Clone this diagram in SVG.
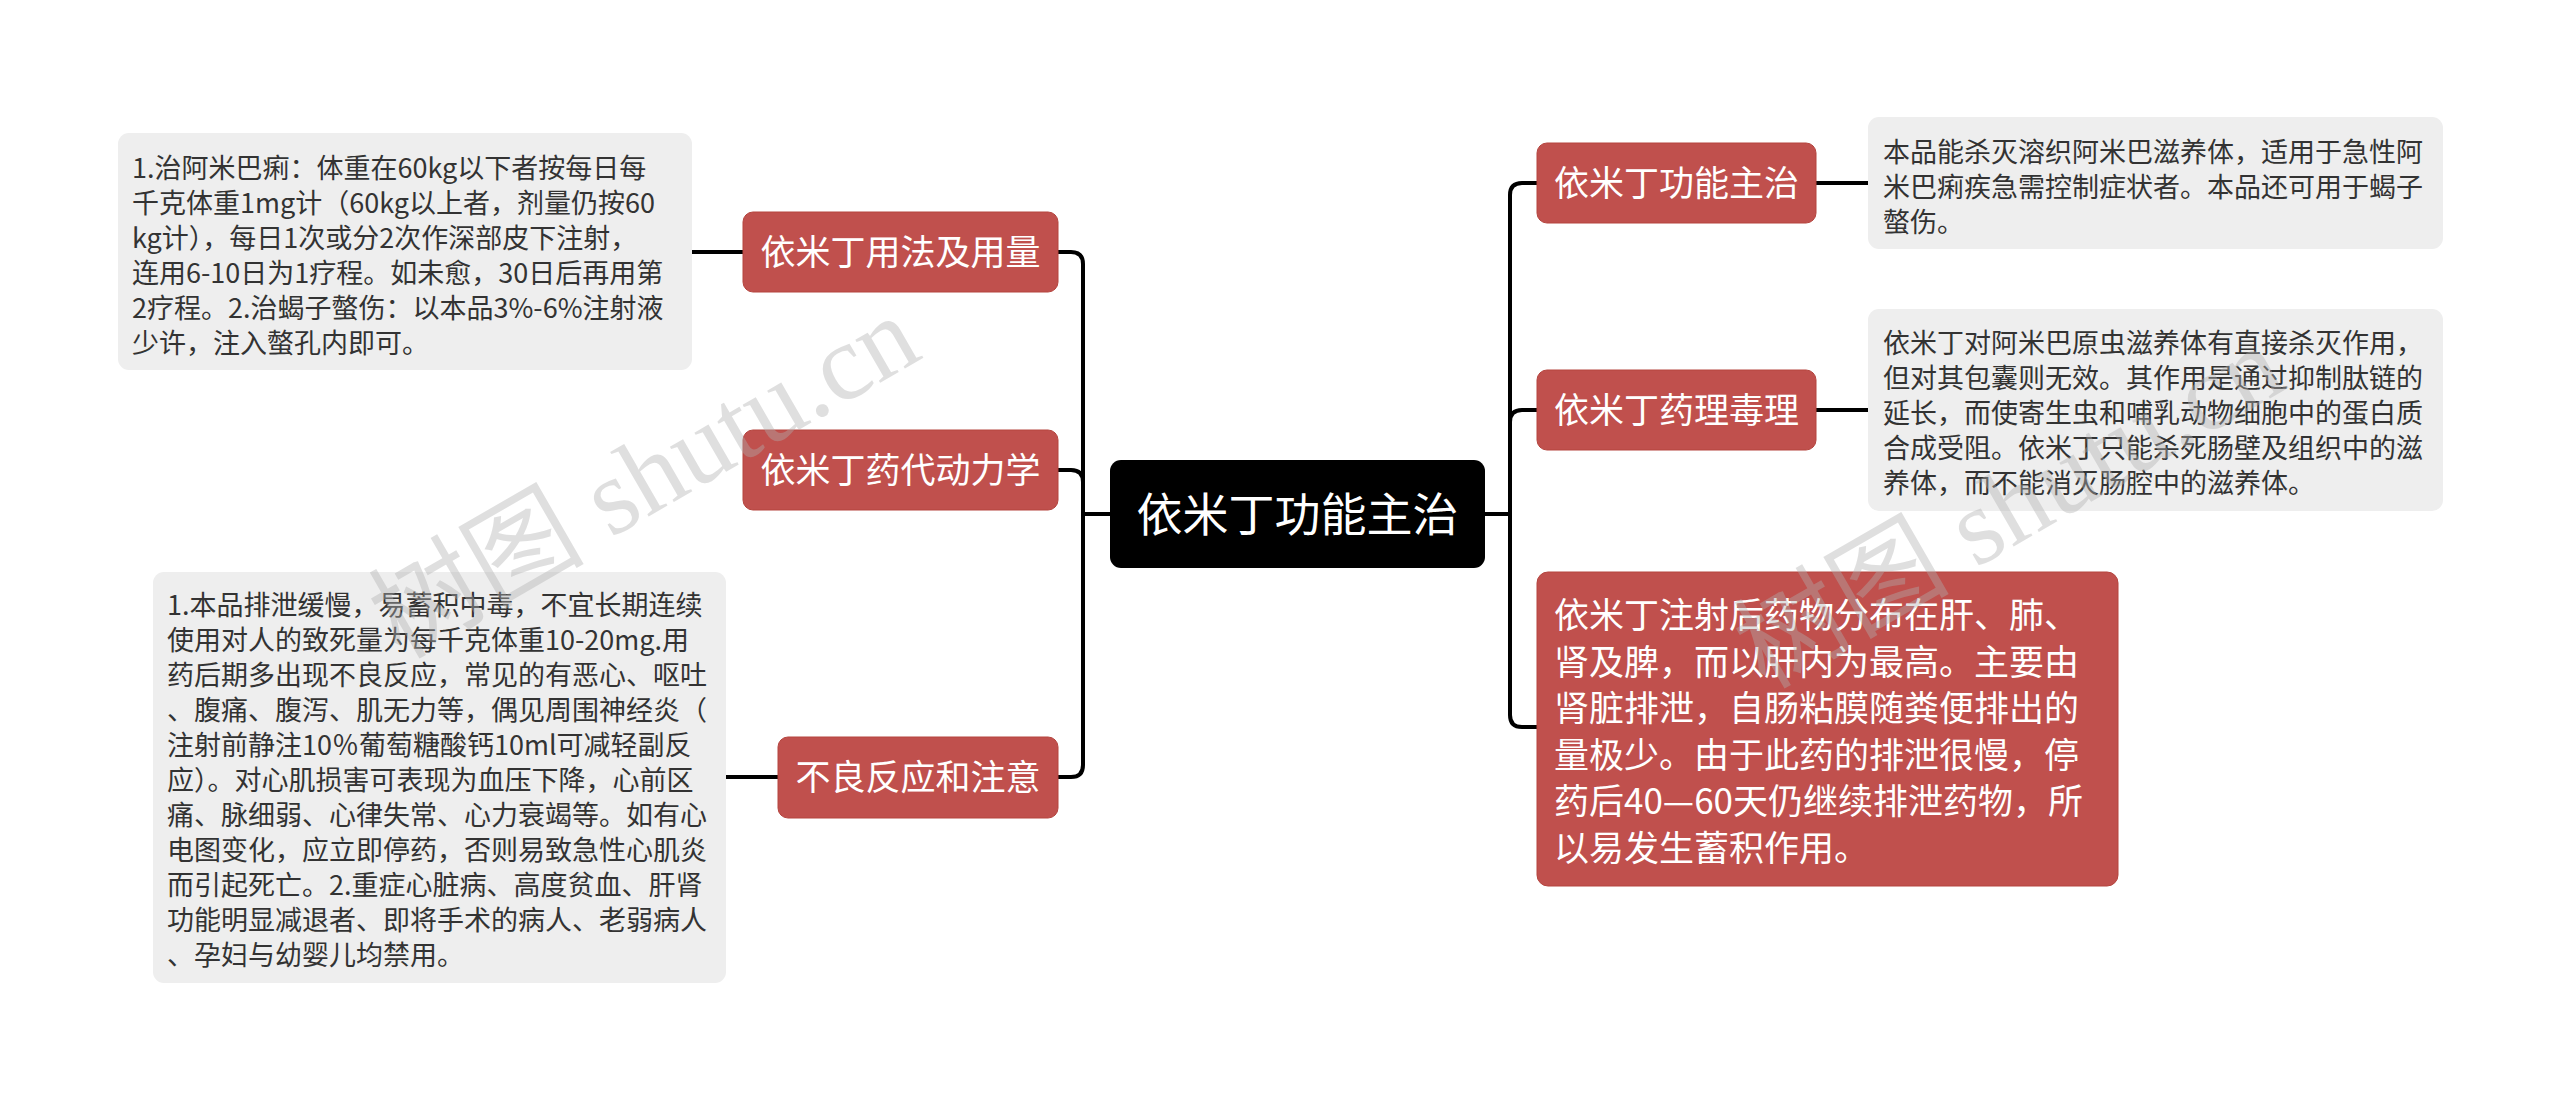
<svg xmlns="http://www.w3.org/2000/svg" width="2560" height="1102" viewBox="0 0 2560 1102">
<style>
  text { font-family: "Noto Sans CJK SC", "Noto Sans", sans-serif; }
  .red { fill: #C0504D; stroke: #B5453F; stroke-width: 1; }
  .grey { fill: #EEEEEE; }
  .root { fill: #000000; }
  .lbl { fill: #FFFFFF; font-size: 35px; text-anchor: middle; }
  .rootlbl { fill: #FFFFFF; font-size: 46px; text-anchor: middle; }
  .note { fill: #333333; font-size: 27px; }
  .bignote { fill: #FFFFFF; font-size: 35px; }
  .conn { fill: none; stroke: #000000; stroke-width: 4; stroke-linecap: butt; }
  .wm { font-family: "Liberation Serif", "Noto Sans CJK SC", serif; font-size: 108px; fill: #b0b0b0; opacity: 0.4; }
</style>
<rect x="0" y="0" width="2560" height="1102" fill="#FFFFFF"/>

<g id="connectors">
  <path class="conn" d="M1110,514 H1083"/>
  <path class="conn" d="M1058,252 H1071 Q1083,252 1083,264 V765 Q1083,777 1071,777 H1058"/>
  <path class="conn" d="M1058,470 H1071 Q1083,470 1083,482"/>
  <path class="conn" d="M1485,514 H1510"/>
  <path class="conn" d="M1537,183 H1522 Q1510,183 1510,195 V715 Q1510,727 1522,727 H1537"/>
  <path class="conn" d="M1537,410 H1522 Q1510,410 1510,422"/>
  <path class="conn" d="M743,252 H692"/>
  <path class="conn" d="M778,777 H726"/>
  <path class="conn" d="M1816,183 H1868"/>
  <path class="conn" d="M1816,410 H1868"/>
</g>

<g id="root">
  <rect class="root" x="1110" y="460" width="375" height="108" rx="11"/>
  <text class="rootlbl" x="1297.5" y="531">依米丁功能主治</text>
</g>

<g id="usage">
  <rect class="red" x="743" y="212" width="315" height="80" rx="10"/>
  <text class="lbl" x="900.5" y="265">依米丁用法及用量</text>
</g>
<g id="usage-note">
  <rect class="grey" x="118" y="133" width="574" height="237" rx="11"/>
  <text class="note" x="132" y="178">1.治阿米巴痢：体重在60kg以下者按每日每</text>
  <text class="note" x="132" y="213">千克体重1mg计（60kg以上者，剂量仍按60</text>
  <text class="note" x="132" y="248">kg计），每日1次或分2次作深部皮下注射，</text>
  <text class="note" x="132" y="283">连用6-10日为1疗程。如未愈，30日后再用第</text>
  <text class="note" x="132" y="318">2疗程。2.治蝎子螫伤：以本品3%-6%注射液</text>
  <text class="note" x="132" y="353">少许，注入螫孔内即可。</text>
</g>

<g id="pk">
  <rect class="red" x="743" y="430" width="315" height="80" rx="10"/>
  <text class="lbl" x="900.5" y="483">依米丁药代动力学</text>
</g>

<g id="adverse">
  <rect class="red" x="778" y="737" width="280" height="81" rx="10"/>
  <text class="lbl" x="918" y="790">不良反应和注意</text>
</g>
<g id="adverse-note">
  <rect class="grey" x="153" y="572" width="573" height="411" rx="11"/>
  <text class="note" x="167" y="615">1.本品排泄缓慢，易蓄积中毒，不宜长期连续</text>
  <text class="note" x="167" y="650">使用对人的致死量为每千克体重10-20mg.用</text>
  <text class="note" x="167" y="685">药后期多出现不良反应，常见的有恶心、呕吐</text>
  <text class="note" x="167" y="720">、腹痛、腹泻、肌无力等，偶见周围神经炎（</text>
  <text class="note" x="167" y="755">注射前静注10％葡萄糖酸钙10ml可减轻副反</text>
  <text class="note" x="167" y="790">应）。对心肌损害可表现为血压下降，心前区</text>
  <text class="note" x="167" y="825">痛、脉细弱、心律失常、心力衰竭等。如有心</text>
  <text class="note" x="167" y="860">电图变化，应立即停药，否则易致急性心肌炎</text>
  <text class="note" x="167" y="895">而引起死亡。2.重症心脏病、高度贫血、肝肾</text>
  <text class="note" x="167" y="930">功能明显减退者、即将手术的病人、老弱病人</text>
  <text class="note" x="167" y="965">、孕妇与幼婴儿均禁用。</text>
</g>

<g id="function">
  <rect class="red" x="1537" y="143" width="279" height="80" rx="10"/>
  <text class="lbl" x="1676.5" y="196">依米丁功能主治</text>
</g>
<g id="function-note">
  <rect class="grey" x="1868" y="117" width="575" height="132" rx="11"/>
  <text class="note" x="1883" y="162">本品能杀灭溶织阿米巴滋养体，适用于急性阿</text>
  <text class="note" x="1883" y="197">米巴痢疾急需控制症状者。本品还可用于蝎子</text>
  <text class="note" x="1883" y="232">螫伤。</text>
</g>

<g id="pharmacology">
  <rect class="red" x="1537" y="370" width="279" height="80" rx="10"/>
  <text class="lbl" x="1676.5" y="423">依米丁药理毒理</text>
</g>
<g id="pharmacology-note">
  <rect class="grey" x="1868" y="309" width="575" height="202" rx="11"/>
  <text class="note" x="1883" y="353">依米丁对阿米巴原虫滋养体有直接杀灭作用，</text>
  <text class="note" x="1883" y="388">但对其包囊则无效。其作用是通过抑制肽链的</text>
  <text class="note" x="1883" y="423">延长，而使寄生虫和哺乳动物细胞中的蛋白质</text>
  <text class="note" x="1883" y="458">合成受阻。依米丁只能杀死肠壁及组织中的滋</text>
  <text class="note" x="1883" y="493">养体，而不能消灭肠腔中的滋养体。</text>
</g>

<g id="distribution">
  <rect class="red" x="1537" y="572" width="581" height="314" rx="11"/>
  <text class="bignote" x="1554" y="628">依米丁注射后药物分布在肝、肺、</text>
  <text class="bignote" x="1554" y="674.5">肾及脾，而以肝内为最高。主要由</text>
  <text class="bignote" x="1554" y="721">肾脏排泄，自肠粘膜随粪便排出的</text>
  <text class="bignote" x="1554" y="767.5">量极少。由于此药的排泄很慢，停</text>
  <text class="bignote" x="1554" y="814">药后40—60天仍继续排泄药物，所</text>
  <text class="bignote" x="1554" y="860.5">以易发生蓄积作用。</text>
</g>

<g id="watermarks">
  <text class="wm" x="0" y="0" transform="translate(400,660) rotate(-30)">树图 shutu.cn</text>
  <text class="wm" x="0" y="0" transform="translate(1765,690) rotate(-30)">树图 shutu.cn</text>
</g>
</svg>
